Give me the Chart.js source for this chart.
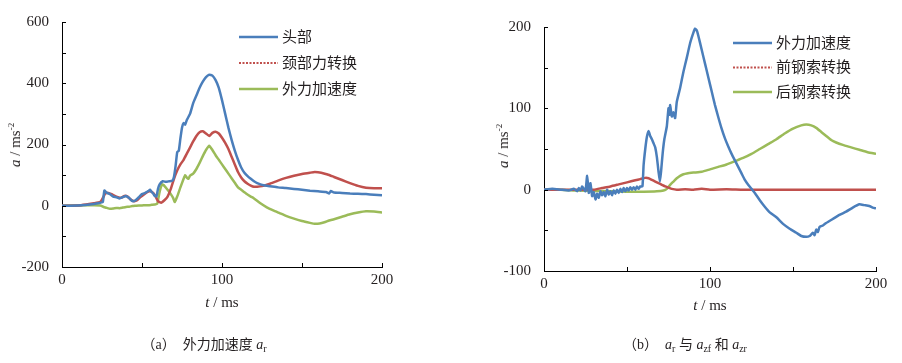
<!DOCTYPE html>
<html>
<head>
<meta charset="utf-8">
<script src="https://cdn.jsdelivr.net/npm/chart.js"></script>
<style>
  body { margin: 0; background: #fff; width: 902px; height: 363px; position: relative; overflow: hidden;
         font-family: "Liberation Serif", "Noto Sans CJK SC", serif; color: #231f20; }
  .box { position: absolute; top: 0; }
  .lbl { position: absolute; white-space: nowrap; font-size: 15px; transform: translate(-50%, -50%); }
  .yt { transform: translate(-50%, -50%) rotate(-90deg); }
  .cap { font-size: 14px; }
  sup { font-size: 9px; vertical-align: 6px; }
  sub { font-size: 10px; vertical-align: -3px; }
</style>
</head>
<body>
<div class="box" style="left:0;width:450px;height:320px"><canvas id="chartA" width="450" height="320"></canvas></div>
<div class="box" style="left:450px;width:452px;height:320px"><canvas id="chartB" width="452" height="320"></canvas></div>

<div class="lbl yt" style="left:15px;top:145px"><i>a</i> / ms<sup>-2</sup></div>
<div class="lbl" style="left:222px;top:302px"><i>t</i> / ms</div>
<div class="lbl cap" style="left:204px;top:343px">（a）&nbsp; 外力加速度 <i>a</i><sub>r</sub></div>

<div class="lbl yt" style="left:503px;top:146px"><i>a</i> / ms<sup>-2</sup></div>
<div class="lbl" style="left:710px;top:305px"><i>t</i> / ms</div>
<div class="lbl cap" style="left:685px;top:343px">（b）&nbsp; <i>a</i><sub>r</sub> 与 <i>a</i><sub>zf</sub> 和 <i>a</i><sub>zr</sub></div>

<script>
  // (a) head / neck-force conversion / external-force acceleration
  const tHeadA = [0,10,20,24,25.5,26.5,28,30,32,34,36,38,40,42,44,46,48,50,52,54,55,56,57,58,59,60,61,63,65,67,69,70,71,72,73,74,75,76,77,78,80,82,84,86,88,90,92,94,96,98,100,102,104,106,108,110,112,114,116,118,120,122,124,126,130,135,140,145,150,155,160,165,167,168,170,175,180,185,190,195,200];
  const headA = [0,1,6,10,12,50,42,38,30,28,24,28,32,25,15,18,28,38,42,48,52,45,40,32,30,55,70,80,78,80,82,95,130,175,180,220,255,270,265,280,300,335,360,385,405,420,428,425,410,385,345,300,255,215,180,150,125,108,97,88,80,74,70,67,64,60,58,55,52,49,47,45,40,48,43,42,40,39,38,36,34];

  const tNeckA = [0,10,15,20,24,26,27,29,31,33,35,37,39,41,43,45,47,49,51,53,55,57,58,60,62,64,66,68,70,72,74,76,78,80,82,84,86,88,90,92,94,96,98,100,102,104,106,108,110,112,114,116,118,120,122,125,130,135,140,145,150,155,158,162,166,170,175,180,185,190,195,200];
  const neckA = [0,1,4,8,13,30,40,42,38,32,28,26,32,30,20,15,18,28,36,44,47,42,35,15,10,18,30,55,88,115,135,150,170,190,210,228,240,243,236,228,238,242,236,222,205,185,160,135,110,92,80,72,66,62,62,64,72,82,91,98,104,108,110,108,102,94,84,74,65,59,57,57];

  const tExtA = [0,10,20,24,26,28,30,32,34,36,38,40,42,44,46,48,50,52,54,56,58,59.5,61,62.5,64,66,68,69.5,70.5,72,74,76,77,78,79,80,82,84,86,88,90,92,94,96,98,100,102,104,106,108,110,112,115,118,120,124,128,132,136,140,145,150,155,158,161,164,167,170,175,180,185,190,195,200];
  const extA = [0,1,2,1,-4,-7,-10,-9,-7,-8,-6,-4,-3,-1,0,1,1,2,2,3,4,6,45,70,65,52,38,25,12,30,60,88,100,92,88,98,105,120,140,162,182,196,182,165,150,135,120,105,90,75,60,52,40,30,24,8,-5,-15,-24,-33,-42,-50,-56,-59,-58,-54,-48,-44,-36,-28,-22,-18,-19,-22];

  // (b) external-force acceleration / front cable / rear cable
  const tExtB = [0,5,10,15,18,20,21,22,23,24,25,26,27,28,29,30,31,32,33,34,35,36,37,38,39,40,41,42,43,44,45,46,47,48,49,50,51,52,53,54,55,56,57,58,59.3,60,61,62,63,64,65,66,67,68,69,69.8,70.5,71.5,72.5,74,75,75.5,76,77,78,79,80,82,84,86,88,90,91,92,93,95,97,99,101,103,105,107,109,111,113,115,117,119,121,123,125,127,130,133,136,140,144,148,152,155,158,160,162,163,164,165,166,168,170,174,178,182,186,190,193,196,198,200];
  const extB = [0,1,0,-1,1,-2,2,-1,4,1,-2,17,-4,8,-8,-3,-12,-5,-10,-2,-7,-3,-8,0,-6,-2,-7,-1,-5,0,-4,1,-3,2,-2,2,-1,3,0,3,0,4,1,4,4,30,50,65,72,66,62,57,52,40,22,10,22,45,62,78,100,92,104,90,95,88,108,125,145,162,180,193,198,196,189,172,155,138,121,104,89,75,63,53,44,36,28,20,12,6,1,-4,-13,-21,-28,-34,-42,-48,-53,-57,-58,-57,-53,-56,-49,-52,-46,-44,-41,-36,-31,-27,-22,-18,-19,-20,-22,-23];

  const tFrontB = [0,10,20,30,35,40,45,50,55,58,61,63,65,67,69,71,73,75,77,80,85,90,95,100,110,120,140,160,180,200];
  const frontB = [0,0,0,0,2,4,6.5,9,11.5,13,14.5,14,12,10,8,6,4,2.5,1,0,0.5,0,1,0,0.5,0,0,0,0,0];

  const tRearB = [0,10,20,30,40,50,60,68,72,74,76,78,80,82,84,86,90,95,100,105,110,115,120,125,130,135,140,145,150,155,158,161,164,167,170,173,176,180,185,190,195,200];
  const rearB = [0,0,-1,-1.5,-2,-2.5,-2.5,-2,-1,1,6,10,14,17,19,20,21,22,25,28,31,35,39,44,50,56,62,69,75,79,80,79,76,71,66,61,58,55,52,49,46,44];

  const BLUE = '#4a7ebb', RED = '#c0504d', GREEN = '#9bbb59';
  const SERIF = '"Liberation Serif", "Noto Sans CJK SC", serif';

  const pts = (xs, ys) => xs.map((x, i) => ({ x: x, y: ys[i] }));

  const series = (label, xs, ys, color, dashed) => ({
    label: label,
    data: pts(xs, ys),
    borderColor: color,
    borderWidth: 2.5,
    pointRadius: 0,
    showLine: true,
    tension: 0.15,
    legendDash: dashed
  });

  // little inward ticks like the original figure
  const innerTicks = {
    id: 'innerTicks',
    afterDraw(chart, args, opts) {
      const ctx = chart.ctx, xs = chart.scales.x, ys = chart.scales.y;
      ctx.save();
      ctx.strokeStyle = '#000';
      ctx.lineWidth = 1;
      ctx.beginPath();
      for (let v = xs.min; v <= xs.max; v += opts.xStep) {
        const px = Math.round(xs.getPixelForValue(v)) + 0.5;
        ctx.moveTo(px, ys.bottom);
        ctx.lineTo(px, ys.bottom - opts.len);
      }
      for (let v = ys.min; v <= ys.max; v += opts.yStep) {
        const py = Math.round(ys.getPixelForValue(v)) + 0.5;
        ctx.moveTo(xs.left, py);
        ctx.lineTo(xs.left + opts.len, py);
      }
      ctx.stroke();
      ctx.restore();
    }
  };

  const lineLegend = {
    id: 'lineLegend',
    afterDraw(chart, args, opts) {
      const ctx = chart.ctx;
      ctx.save();
      chart.data.datasets.forEach((ds, i) => {
        const y = opts.y + i * opts.gap;
        ctx.strokeStyle = ds.borderColor;
        ctx.lineWidth = ds.legendDash ? 2 : 2.5;
        ctx.setLineDash(ds.legendDash ? [2, 1.5] : []);
        ctx.beginPath();
        ctx.moveTo(opts.x, y);
        ctx.lineTo(opts.x + opts.len, y);
        ctx.stroke();
        ctx.setLineDash([]);
        ctx.fillStyle = '#231f20';
        ctx.font = '15px ' + SERIF;
        ctx.textBaseline = 'middle';
        ctx.fillText(ds.label, opts.x + opts.len + 4, y + 1);
      });
      ctx.restore();
    }
  };

  const renderChart = (id, datasets, cfg) => {
    new Chart(document.getElementById(id), {
      type: 'scatter',
      data: { datasets: datasets },
      plugins: [innerTicks, lineLegend],
      options: {
        responsive: false,
        animation: false,
        layout: { padding: { left: 0, right: cfg.padRight, top: cfg.padTop, bottom: 0 } },
        scales: {
          x: {
            type: 'linear', min: 0, max: 200,
            grid: { display: false },
            border: { display: true, color: '#000', width: 1 },
            ticks: { stepSize: 100, color: '#231f20', padding: -4, font: { family: SERIF, size: 15 } },
            afterFit: s => { s.height = cfg.xHeight; }
          },
          y: {
            min: cfg.yMin, max: cfg.yMax,
            grid: { display: false },
            border: { display: true, color: '#000', width: 1 },
            ticks: { stepSize: cfg.yStep, color: '#231f20', padding: 5, font: { family: SERIF, size: 15 } },
            afterFit: s => { s.width = cfg.yWidth; }
          }
        },
        plugins: {
          legend: { display: false },
          tooltip: { enabled: false },
          innerTicks: { xStep: 50, yStep: cfg.yMinor, len: 4 },
          lineLegend: cfg.legend
        }
      }
    });
  };

  renderChart('chartA', [
    series('头部', tHeadA, headA, BLUE, false),
    series('颈部力转换', tNeckA, neckA, RED, true),
    series('外力加速度', tExtA, extA, GREEN, false)
  ], {
    padRight: 68, padTop: 22, xHeight: 53, yWidth: 62,
    yMin: -200, yMax: 600, yStep: 200, yMinor: 100,
    legend: { x: 239, y: 37, gap: 26, len: 39 }
  });

  renderChart('chartB', [
    series('外力加速度', tExtB, extB, BLUE, false),
    series('前钢索转换', tFrontB, frontB, RED, true),
    series('后钢索转换', tRearB, rearB, GREEN, false)
  ], {
    padRight: 26, padTop: 27, xHeight: 49, yWidth: 94,
    yMin: -100, yMax: 200, yStep: 100, yMinor: 50,
    legend: { x: 283, y: 43, gap: 24.5, len: 39 }
  });
</script>
</body>
</html>
